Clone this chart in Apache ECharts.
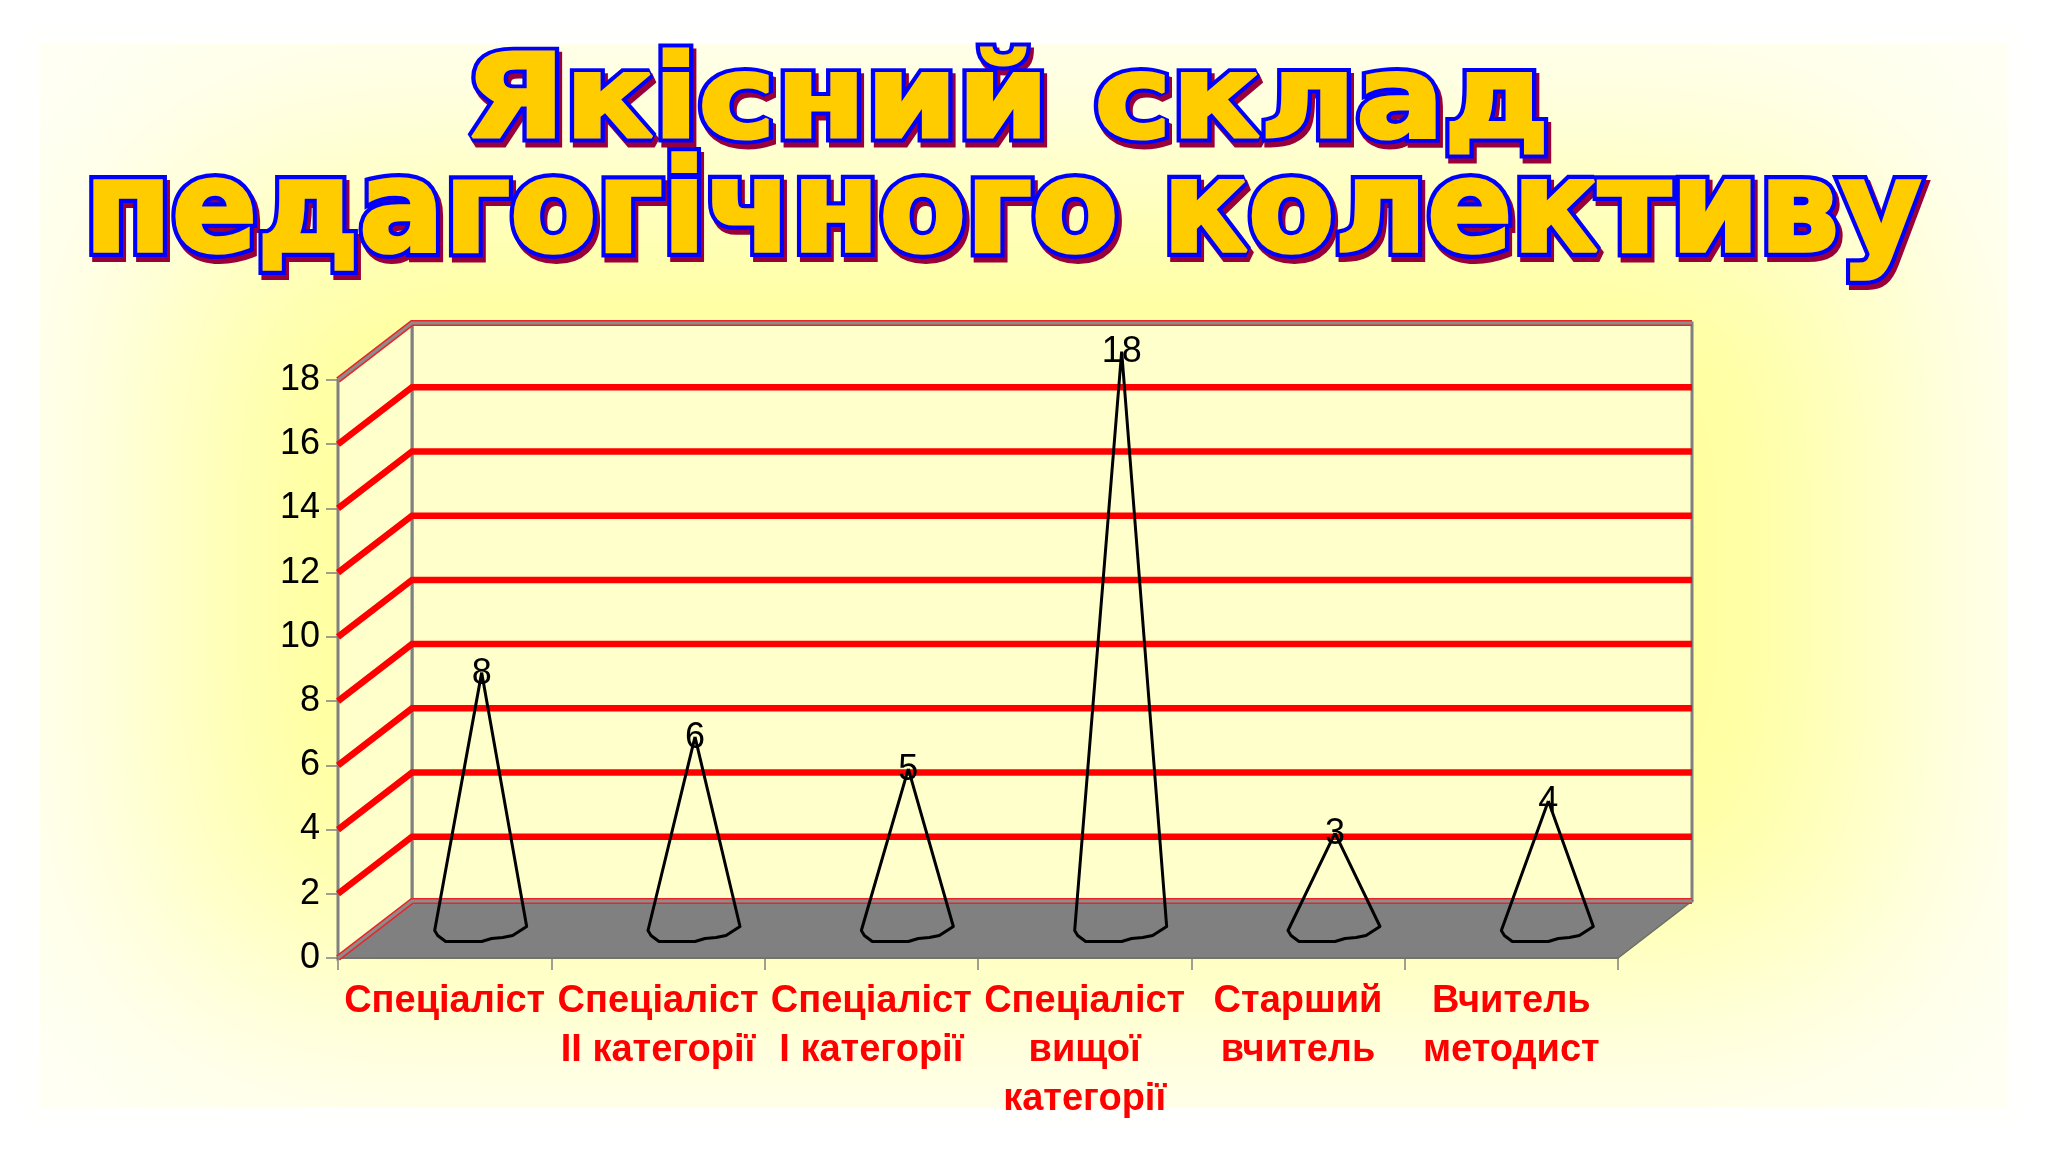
<!DOCTYPE html>
<html><head><meta charset="utf-8">
<style>
html,body{margin:0;padding:0;width:2048px;height:1152px;overflow:hidden;background:#fff}
#bg{position:absolute;left:40px;top:44px;width:1968px;height:1064px;background:#ffff99;box-shadow:inset 0 0 260px 130px #fffff8, 0 0 30px 12px #fffffc}
#c{position:absolute;left:0;top:0;width:2048px;height:1152px}
</style>
<script src="https://cdn.jsdelivr.net/npm/echarts@6/dist/echarts.min.js"></script>
</head><body><div id="bg"></div><div id="c"></div>
<script>
var titleLines = ['Якісний склад', 'педагогічного колективу'];
var categories = ['Спеціаліст', 'Спеціаліст\nІІ категорії', 'Спеціаліст\nІ категорії', 'Спеціаліст\nвищої\nкатегорії', 'Старший\nвчитель', 'Вчитель\nметодист'];
var values = [8, 6, 5, 18, 3, 4];
var gridValues = [2, 4, 6, 8, 10, 12, 14, 16];
var frameValues = [0, 18];

var DX = 74, DY = -57;
var baseShape = [[-47,1],[-44,6],[-36,12],[0,12],[10,9],[21,8],[31,6],[45,-3]];

function wallPath(params, api, v) {
  var cs = params.coordSys;
  var p = api.coord([0, v]);
  return [[cs.x, p[1]], [cs.x + DX, p[1] + DY], [cs.x + cs.width + DX, p[1] + DY]];
}
function titleText(text, x, y, size, sx, sy, fill, stroke, lw) {
  return {type:'text', x:x, y:y, scaleX:sx, scaleY:sy, silent:true,
    style:{text:text, font:'bold '+size+'px "DejaVu Sans"', fill:fill, stroke:stroke, lineWidth:lw,
      lineJoin:'miter', align:'center', verticalAlign:'middle', textAlign:'center', textVerticalAlign:'middle'}};
}
var T = [
  {text:titleLines[0], x:1007, y:107, size:128, sx:1.02, sy:0.9},
  {text:titleLines[1], x:1003, y:218, size:128, sx:0.985, sy:1.0}
];
var graphics = [];
T.forEach(function(t){
  graphics.push(titleText(t.text, t.x+3, t.y+5, t.size, t.sx, t.sy, '#99003a', '#99003a', 12));
});
T.forEach(function(t){
  graphics.push(titleText(t.text, t.x, t.y, t.size, t.sx, t.sy, '#0000ff', '#0000ff', 12));
});
T.forEach(function(t){
  graphics.push(titleText(t.text, t.x, t.y, t.size, t.sx, t.sy, '#ffcc00', '#ffcc00', 3.5));
});

var chart = echarts.init(document.getElementById('c'), null, {renderer:'canvas'});
chart.setOption({
  animation:false,
  backgroundColor:'transparent',
  grid:{left:338, right:430, top:380, bottom:194, containLabel:false},
  xAxis:{type:'category', data:categories, boundaryGap:true,
    axisLine:{lineStyle:{color:'#808080', width:2}},
    axisTick:{show:true, alignWithLabel:false, length:12, lineStyle:{color:'#808080', width:1.5}},
    axisLabel:{interval:0, color:'#ff0000', fontFamily:'Liberation Sans', fontWeight:'bold', fontSize:38, lineHeight:49, margin:19}
  },
  yAxis:{type:'value', min:0, max:18, interval:2,
    axisLine:{show:true, lineStyle:{color:'#808080', width:3}},
    axisTick:{show:true, length:12, lineStyle:{color:'#808080', width:1.5}},
    splitLine:{show:false},
    axisLabel:{color:'#000', fontFamily:'Liberation Sans', fontSize:36, margin:18}
  },
  graphic:graphics,
  series:[
    {type:'custom', silent:true, z:1, data:[[0,0]], clip:false,
      renderItem:function(params, api){
        var cs = params.coordSys;
        var y0 = api.coord([0,0])[1], yT = api.coord([0,18])[1];
        var L = cs.x, R = cs.x+cs.width;
        return {type:'group', children:[
          {type:'polygon', shape:{points:[[L+DX,yT+DY],[R+DX,yT+DY],[R+DX,y0+DY],[L+DX,y0+DY]]}, style:{fill:'#ffffcc', stroke:'#808080', lineWidth:3}},
          {type:'polygon', shape:{points:[[L,yT],[L+DX,yT+DY],[L+DX,y0+DY],[L,y0]]}, style:{fill:'#ffffcc', stroke:'#808080', lineWidth:3}},
          {type:'polygon', shape:{points:[[L,y0],[L+DX,y0+DY],[R+DX,y0+DY],[R,y0]]}, style:{fill:'#808080', stroke:'#6f6f60', lineWidth:1.5}}
        ]};
      }},
    {type:'custom', silent:true, z:2, data:gridValues.map(function(v){return [0,v];}), clip:false,
      renderItem:function(params, api){
        return {type:'polyline', shape:{points:wallPath(params, api, api.value(1))}, style:{fill:null, stroke:'#ff0000', lineWidth:6.5}};
      }},
    {type:'custom', silent:true, z:2, data:frameValues.map(function(v){return [0,v];}), clip:false,
      renderItem:function(params, api){
        var pts = wallPath(params, api, api.value(1));
        return {type:'group', children:[
          {type:'polyline', shape:{points:pts}, style:{fill:null, stroke:'#e8262a', lineWidth:6}},
          {type:'polyline', shape:{points:pts}, style:{fill:null, stroke:'#8c8c8c', lineWidth:3}}
        ]};
      }},
    {type:'custom', silent:true, z:3, data:values.map(function(v,i){return [i,v];}), clip:false,
      renderItem:function(params, api){
        var tip = api.coord([api.value(0), api.value(1)]);
        var base = api.coord([api.value(0), 0]);
        var tx = tip[0]+DX/2, ty = tip[1]+DY/2, bx = base[0]+DX/2, by = base[1]+DY/2;
        var pts = [[tx,ty]];
        baseShape.forEach(function(o){ pts.push([bx+o[0], by+o[1]]); });
        pts.push([tx,ty]);
        return {type:'group', children:[
          {type:'polyline', shape:{points:pts}, style:{fill:null, stroke:'#000', lineWidth:3, lineJoin:'round'}},
          {type:'text', x:tx, y:ty+1, style:{text:String(api.value(1)), font:'36px "Liberation Sans"', fill:'#000', align:'center', verticalAlign:'middle', textAlign:'center', textVerticalAlign:'middle'}}
        ]};
      }}
  ]
});
</script></body></html>
